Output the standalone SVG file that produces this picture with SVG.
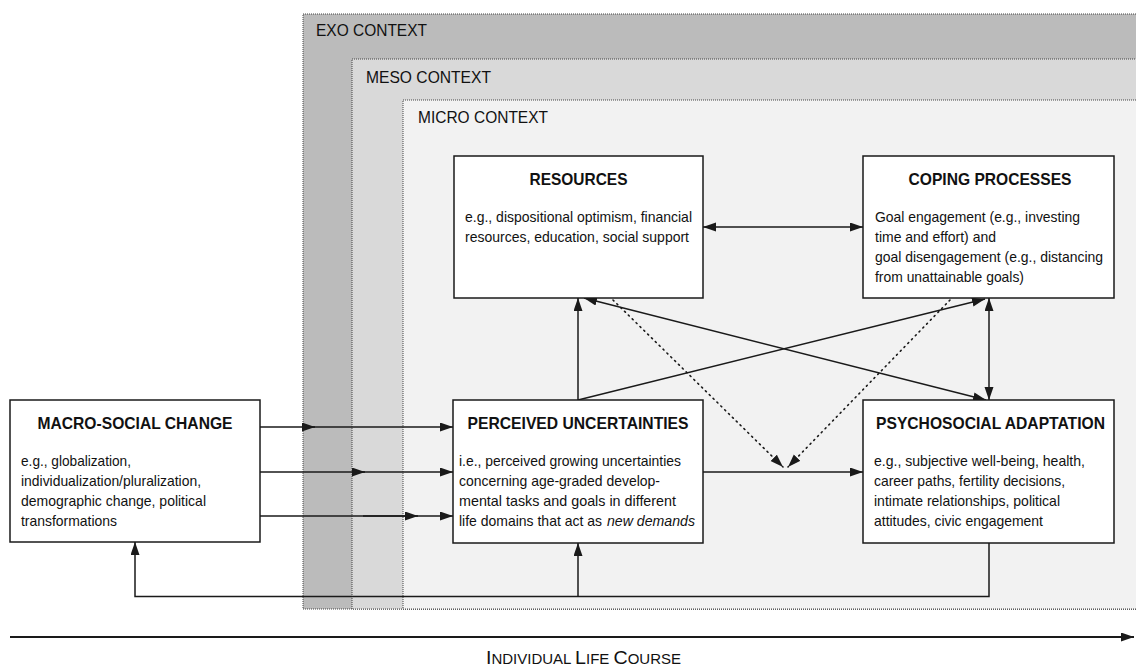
<svg xmlns="http://www.w3.org/2000/svg" width="1136" height="667" viewBox="0 0 1136 667">
<style>
text{font-family:"Liberation Sans",Arial,sans-serif;fill:#111}
.ctx{font-size:17px}
.ttl{font-size:16.5px;font-weight:bold;text-anchor:middle}
.bd{font-size:15px}
.box{fill:#fff;stroke:#1a1a1a;stroke-width:1.5}
.ln{fill:none;stroke:#1a1a1a;stroke-width:1.5}
.dot{fill:none;stroke:#1a1a1a;stroke-width:1.6;stroke-dasharray:1.2 4.2;stroke-linecap:round}
.cb{stroke:#444;stroke-width:1;stroke-dasharray:1 1}
</style>
<defs>
<marker id="ah" markerUnits="userSpaceOnUse" markerWidth="14" markerHeight="10" refX="13" refY="4.5" orient="auto-start-reverse" viewBox="0 0 14 10">
<path d="M0,0 L13,4.5 L0,9 z" fill="#1a1a1a"/>
</marker>
</defs>
<rect width="1136" height="667" fill="#fff"/>
<g id="contexts">
<rect class="cb" x="303" y="14" width="900" height="595" fill="#bbbbbb"/>
<rect class="cb" x="352" y="59" width="850" height="550" fill="#d9d9d9"/>
<rect class="cb" x="403" y="100" width="800" height="509" fill="#f2f2f2"/>
<text class="ctx" x="316" y="36" textLength="111" lengthAdjust="spacingAndGlyphs">EXO CONTEXT</text>
<text class="ctx" x="366" y="83" textLength="125" lengthAdjust="spacingAndGlyphs">MESO CONTEXT</text>
<text class="ctx" x="418" y="123" textLength="130" lengthAdjust="spacingAndGlyphs">MICRO CONTEXT</text>
</g>
<g id="connectors">
<line class="ln" x1="260" y1="427" x2="315" y2="427" marker-end="url(#ah)"/>
<line class="ln" x1="310" y1="427" x2="453" y2="427" marker-end="url(#ah)"/>
<line class="ln" x1="260" y1="472" x2="365" y2="472" marker-end="url(#ah)"/>
<line class="ln" x1="360" y1="472" x2="453" y2="472" marker-end="url(#ah)"/>
<line class="ln" x1="260" y1="516" x2="418" y2="516" marker-end="url(#ah)"/>
<line class="ln" x1="363" y1="516" x2="410" y2="516" stroke-width="2.3"/>
<line class="ln" x1="413" y1="516" x2="453" y2="516" marker-end="url(#ah)"/>
<line class="ln" x1="703" y1="472" x2="863" y2="472" marker-end="url(#ah)"/>
<line class="ln" x1="703" y1="227" x2="863" y2="227" marker-start="url(#ah)" marker-end="url(#ah)"/>
<line class="ln" x1="578" y1="400" x2="578" y2="298" marker-end="url(#ah)"/>
<line class="ln" x1="578" y1="400" x2="985" y2="299" marker-end="url(#ah)"/>
<line class="ln" x1="584" y1="298" x2="986" y2="400" marker-start="url(#ah)" marker-end="url(#ah)"/>
<line class="ln" x1="989" y1="298" x2="989" y2="400" marker-start="url(#ah)" marker-end="url(#ah)"/>
<line class="dot" x1="613" y1="300" x2="783" y2="467" marker-end="url(#ah)"/>
<line class="dot" x1="950" y1="300" x2="788" y2="467" marker-end="url(#ah)"/>
<polyline class="ln" points="989,543 989,596.5 135,596.5 135,542" marker-end="url(#ah)"/>
<line class="ln" x1="578" y1="596.5" x2="578" y2="543" marker-end="url(#ah)"/>
</g>
<g id="resources">
<rect class="box" x="454" y="156" width="249" height="142"/>
<text class="ttl" x="578.5" y="185" textLength="98" lengthAdjust="spacingAndGlyphs">RESOURCES</text>
<text class="bd" x="465" y="222" textLength="227" lengthAdjust="spacingAndGlyphs">e.g., dispositional optimism, financial</text>
<text class="bd" x="465" y="242" textLength="224" lengthAdjust="spacingAndGlyphs">resources, education, social support</text>
</g>
<g id="coping">
<rect class="box" x="863" y="156" width="251" height="142"/>
<text class="ttl" x="990" y="185" textLength="163" lengthAdjust="spacingAndGlyphs">COPING PROCESSES</text>
<text class="bd" x="875" y="222" textLength="205" lengthAdjust="spacingAndGlyphs">Goal engagement (e.g., investing</text>
<text class="bd" x="875" y="242" textLength="121" lengthAdjust="spacingAndGlyphs">time and effort) and</text>
<text class="bd" x="875" y="262" textLength="228" lengthAdjust="spacingAndGlyphs">goal disengagement (e.g., distancing</text>
<text class="bd" x="875" y="282" textLength="149" lengthAdjust="spacingAndGlyphs">from unattainable goals)</text>
</g>
<g id="macro">
<rect class="box" x="10" y="400" width="250" height="142"/>
<text class="ttl" x="135" y="429" textLength="195" lengthAdjust="spacingAndGlyphs">MACRO-SOCIAL CHANGE</text>
<text class="bd" x="21" y="466" textLength="110" lengthAdjust="spacingAndGlyphs">e.g., globalization,</text>
<text class="bd" x="21" y="486" textLength="180" lengthAdjust="spacingAndGlyphs">individualization/pluralization,</text>
<text class="bd" x="21" y="506" textLength="185" lengthAdjust="spacingAndGlyphs">demographic change, political</text>
<text class="bd" x="21" y="526" textLength="96" lengthAdjust="spacingAndGlyphs">transformations</text>
</g>
<g id="perceived">
<rect class="box" x="453" y="400" width="250" height="143"/>
<text class="ttl" x="578" y="429" textLength="221" lengthAdjust="spacingAndGlyphs">PERCEIVED UNCERTAINTIES</text>
<text class="bd" x="459" y="466" textLength="222" lengthAdjust="spacingAndGlyphs">i.e., perceived growing uncertainties</text>
<text class="bd" x="459" y="486" textLength="201" lengthAdjust="spacingAndGlyphs">concerning age-graded develop-</text>
<text class="bd" x="459" y="506" textLength="217" lengthAdjust="spacingAndGlyphs">mental tasks and goals in different</text>
<text class="bd" x="459" y="526" textLength="143" lengthAdjust="spacingAndGlyphs">life domains that act as</text>
<text class="bd" x="607" y="526" textLength="88" lengthAdjust="spacingAndGlyphs" font-style="italic">new demands</text>
</g>
<g id="psychosocial">
<rect class="box" x="863" y="400" width="251" height="143"/>
<text class="ttl" x="990.5" y="429" textLength="229" lengthAdjust="spacingAndGlyphs">PSYCHOSOCIAL ADAPTATION</text>
<text class="bd" x="874" y="466" textLength="211" lengthAdjust="spacingAndGlyphs">e.g., subjective well-being, health,</text>
<text class="bd" x="874" y="486" textLength="191" lengthAdjust="spacingAndGlyphs">career paths, fertility decisions,</text>
<text class="bd" x="874" y="506" textLength="186" lengthAdjust="spacingAndGlyphs">intimate relationships, political</text>
<text class="bd" x="874" y="526" textLength="169" lengthAdjust="spacingAndGlyphs">attitudes, civic engagement</text>
</g>
<g id="lifecourse">
<line x1="10" y1="637" x2="1134" y2="637" stroke="#1a1a1a" stroke-width="2" marker-end="url(#ah)"/>
<text x="486" y="664" font-size="14.5" textLength="195" lengthAdjust="spacingAndGlyphs"><tspan font-size="19">I</tspan>NDIVIDUAL <tspan font-size="19">L</tspan>IFE <tspan font-size="19">C</tspan>OURSE</text>
</g>
</svg>
